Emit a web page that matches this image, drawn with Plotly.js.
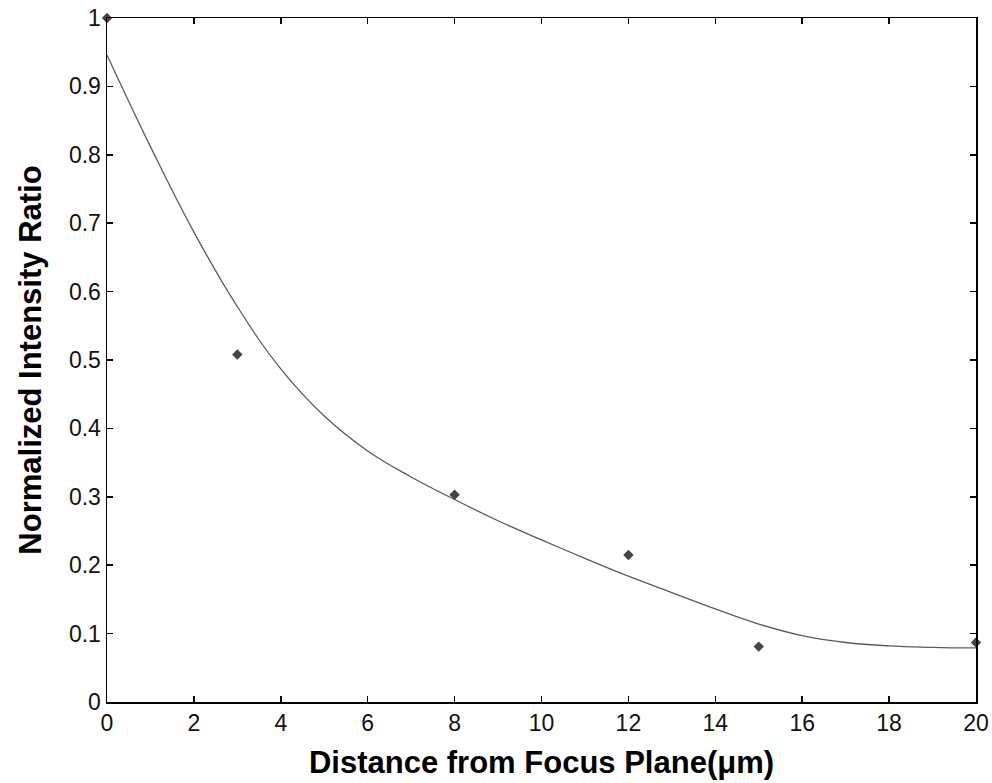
<!DOCTYPE html>
<html>
<head>
<meta charset="utf-8">
<script src="https://cdn.plot.ly/plotly-3.0.1.min.js"></script>
<style>html,body{margin:0;padding:0;background:#fff;}#chart{width:992px;height:783px;}</style>
</head>
<body>
<div id="chart"></div>
<script>
// Measured data points
var pointX = [0, 3, 8, 12, 15, 20];
var pointY = [1.0, 0.508, 0.303, 0.215, 0.081, 0.087];

// Fitted curve
var fitX = [0, 1, 2, 3, 4, 5, 6, 7, 8, 9, 10, 11, 12, 13, 14, 15, 16, 17, 18, 19, 20];
var fitY = [0.946, 0.812, 0.687, 0.578, 0.487, 0.418, 0.367, 0.329, 0.296, 0.265, 0.237, 0.210, 0.184, 0.160, 0.136, 0.114, 0.097, 0.087, 0.082, 0.080, 0.079];

var xTicks = [0, 2, 4, 6, 8, 10, 12, 14, 16, 18, 20];
var yTicks = [0, 0.1, 0.2, 0.3, 0.4, 0.5, 0.6, 0.7, 0.8, 0.9, 1];

var traces = [
  {x: fitX, y: fitY, mode: 'lines', type: 'scatter',
   line: {color: '#5a5a5a', width: 1.3, shape: 'spline', smoothing: 1.2}, hoverinfo: 'skip'},
  {x: pointX, y: pointY, mode: 'markers', type: 'scatter',
   marker: {symbol: 'diamond', size: 8, color: '#444444'}, cliponaxis: false}
];

var axisCommon = {
  showgrid: false, zeroline: false, showline: true, linecolor: '#000', linewidth: 1.5,
  mirror: 'allticks', ticks: 'inside', ticklen: 6, tickwidth: 1.5, tickcolor: '#000',
  tickfont: {family: 'Liberation Sans, Arial, sans-serif', size: 23, color: '#111'}
};

var layout = {
  width: 992, height: 783,
  margin: {l: 107, r: 16, t: 18, b: 81},
  paper_bgcolor: '#fff', plot_bgcolor: '#fff',
  showlegend: false,
  xaxis: Object.assign({}, axisCommon, {
    range: [0, 20], tickvals: xTicks, ticktext: xTicks.map(String),
    title: {text: 'Distance from Focus Plane(μm)', standoff: 16,
            font: {family: 'Liberation Sans, Arial, sans-serif', size: 31, color: '#000', weight: 'bold'}}
  }),
  yaxis: Object.assign({}, axisCommon, {
    range: [0, 1], tickvals: yTicks, ticktext: yTicks.map(String),
    title: {text: 'Normalized Intensity Ratio', standoff: 18,
            font: {family: 'Liberation Sans, Arial, sans-serif', size: 31, color: '#000', weight: 'bold'}}
  })
};

Plotly.newPlot('chart', traces, layout, {staticPlot: true});
</script>
</body>
</html>
